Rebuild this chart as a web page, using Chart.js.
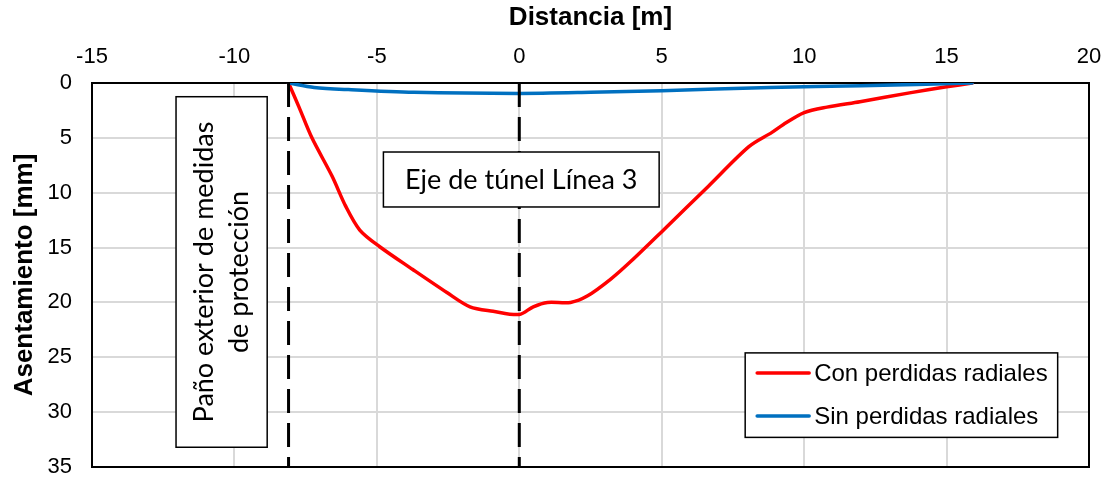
<!DOCTYPE html>
<html>
<head>
<meta charset="utf-8">
<script src="https://cdn.jsdelivr.net/npm/chart.js@4.4.0/dist/chart.umd.min.js"></script>
<style>
  html, body { margin: 0; padding: 0; background: #fff; }
</style>
</head>
<body>
<canvas id="asentamiento" width="1110" height="480"></canvas>
<script>
// Con perdidas radiales
var conX = [-8.1, -7.74, -7.28, -6.57, -6.1, -5.6, -4.91, -3.74, -2.54, -1.73, -0.92, 0, 0.49, 0.99, 1.8, 2.4, 3.2, 3.9, 5.1, 6.64, 8.06, 8.87, 9.26, 10.0, 10.8, 11.96, 13.7, 15.0, 15.9];
var conY = [0, 2.15, 5.0, 8.5, 11.2, 13.4, 14.9, 17.0, 19.1, 20.4, 20.8, 21.1, 20.4, 20.0, 20.0, 19.4, 17.9, 16.3, 13.3, 9.4, 5.8, 4.5, 3.8, 2.7, 2.2, 1.7, 0.9, 0.35, 0];
// Sin perdidas radiales
var sinX = [-8.1, -7.2, -6.0, -3.7, 0, 2.5, 5.0, 8.8, 12.0, 15.9];
var sinY = [0, 0.4, 0.6, 0.85, 0.95, 0.85, 0.7, 0.4, 0.25, 0];
// lineas de referencia (pano exterior y eje del tunel)
var refX = [-8.1, 0];
var refY = [0, 35];

var serieNames = ['Con perdidas radiales', 'Sin perdidas radiales'];
var notaPano = ['Paño exterior de medidas', 'de protección'];
var notaEje = 'Eje de túnel Línea 3';

function pts(xs, ys) {
  return xs.map(function (x, i) { return { x: x, y: ys[i] }; });
}
function vline(x) {
  return refY.map(function (y) { return { x: x, y: y }; });
}

var marco = {
  id: 'marco',
  beforeDatasetsDraw: function (chart) {
    var a = chart.chartArea, c = chart.ctx;
    c.save();
    c.strokeStyle = '#000';
    c.lineWidth = 2;
    c.strokeRect(a.left, a.top, a.right - a.left, a.bottom - a.top);
    c.restore();
  }
};

var notas = {
  id: 'notas',
  afterDatasetsDraw: function (chart) {
    var c = chart.ctx, xs = chart.scales.x, ys = chart.scales.y;
    c.save();
    // caja vertical
    var l = xs.getPixelForValue(-12.05), r = xs.getPixelForValue(-8.85);
    var t = ys.getPixelForValue(1.25), b = ys.getPixelForValue(33.2);
    c.fillStyle = '#fff';
    c.fillRect(l, t, r - l, b - t);
    c.strokeStyle = '#000';
    c.lineWidth = 1.5;
    c.strokeRect(l, t, r - l, b - t);
    c.translate((l + r) / 2, (t + b) / 2);
    c.rotate(-Math.PI / 2);
    c.fillStyle = '#000';
    c.font = '27px Lato';
    c.textAlign = 'center';
    c.textBaseline = 'middle';
    c.fillText(notaPano[0], 0, -17);
    c.fillText(notaPano[1], 0, 18);
    c.restore();

    // caja eje
    c.save();
    l = xs.getPixelForValue(-4.77); r = xs.getPixelForValue(4.91);
    t = ys.getPixelForValue(6.29); b = ys.getPixelForValue(11.3);
    c.fillStyle = '#fff';
    c.fillRect(l, t, r - l, b - t);
    c.strokeStyle = '#000';
    c.lineWidth = 1.5;
    c.strokeRect(l, t, r - l, b - t);
    c.fillStyle = '#000';
    c.font = '27px Lato';
    c.textAlign = 'center';
    c.textBaseline = 'middle';
    c.fillText(notaEje, (l + r) / 2, (t + b) / 2 + 1);
    c.restore();
  }
};

var leyenda = {
  id: 'leyenda',
  afterDraw: function (chart) {
    var c = chart.ctx, xs = chart.scales.x, ys = chart.scales.y;
    var l = xs.getPixelForValue(7.93), r = xs.getPixelForValue(18.9);
    var t = ys.getPixelForValue(24.6), b = ys.getPixelForValue(32.3);
    c.save();
    c.fillStyle = '#fff';
    c.fillRect(l, t, r - l, b - t);
    c.strokeStyle = '#000';
    c.lineWidth = 1.5;
    c.strokeRect(l, t, r - l, b - t);
    c.font = '24px "Liberation Sans", Arial';
    c.textBaseline = 'middle';
    c.lineCap = 'round';
    var ds = chart.data.datasets.slice(0, 2);
    ds.forEach(function (d, i) {
      var y = t + 20 + i * 43;
      c.strokeStyle = d.borderColor;
      c.lineWidth = 3.5;
      c.beginPath();
      c.moveTo(l + 12, y);
      c.lineTo(l + 64, y);
      c.stroke();
      c.fillStyle = '#000';
      c.fillText(d.label, l + 69, y + 1);
    });
    c.restore();
  }
};

function sinPadding(s) {
  s.paddingTop = 0;
  s.paddingBottom = 0;
  s.paddingLeft = 0;
  s.paddingRight = 0;
}

var ctx = document.getElementById('asentamiento');
var chart = new Chart(ctx, {
  type: 'scatter',
  data: {
    datasets: [
      {
        label: serieNames[0],
        data: pts(conX, conY),
        showLine: true,
        borderColor: '#ff0000',
        borderWidth: 3.5,
        borderCapStyle: 'round',
        tension: 0.3,
        pointRadius: 0,
        order: 2
      },
      {
        label: serieNames[1],
        data: pts(sinX, sinY),
        showLine: true,
        borderColor: '#0070c0',
        borderWidth: 3.5,
        borderCapStyle: 'round',
        tension: 0.3,
        pointRadius: 0,
        order: 1
      },
      {
        label: 'pano',
        data: vline(refX[0]),
        showLine: true,
        borderColor: '#000',
        borderWidth: 3,
        borderDash: [24, 10],
        pointRadius: 0,
        order: 0
      },
      {
        label: 'eje',
        data: vline(refX[1]),
        showLine: true,
        borderColor: '#000',
        borderWidth: 3,
        borderDash: [24, 10],
        pointRadius: 0,
        order: 0
      }
    ]
  },
  options: {
    responsive: false,
    animation: false,
    layout: { padding: { left: 0, top: 0, right: 21, bottom: 13 } },
    plugins: {
      legend: { display: false },
      tooltip: { enabled: false }
    },
    scales: {
      x: {
        type: 'linear',
        position: 'top',
        min: -15,
        max: 20,
        afterFit: function (s) { s.height = 83; sinPadding(s); },
        ticks: {
          stepSize: 5,
          color: '#000',
          padding: 13,
          font: { family: '"Liberation Sans", Arial', size: 22 }
        },
        grid: { color: '#d9d9d9', lineWidth: 2, drawTicks: false },
        border: { display: false },
        title: {
          display: true,
          text: 'Distancia [m]',
          color: '#000',
          padding: { top: 2, bottom: 0 },
          font: { family: '"Liberation Sans", Arial', size: 26, weight: 'bold' }
        }
      },
      y: {
        type: 'linear',
        reverse: true,
        min: 0,
        max: 35,
        afterFit: function (s) { s.width = 92; sinPadding(s); },
        ticks: {
          stepSize: 5,
          color: '#000',
          padding: 20,
          font: { family: '"Liberation Sans", Arial', size: 22 }
        },
        grid: { color: '#d9d9d9', lineWidth: 2, drawTicks: false },
        border: { display: false },
        title: {
          display: true,
          text: 'Asentamiento [mm]',
          color: '#000',
          padding: { top: 9, bottom: 0 },
          font: { family: '"Liberation Sans", Arial', size: 26, weight: 'bold' }
        }
      }
    }
  },
  plugins: [marco, notas, leyenda]
});
</script>
</body>
</html>
